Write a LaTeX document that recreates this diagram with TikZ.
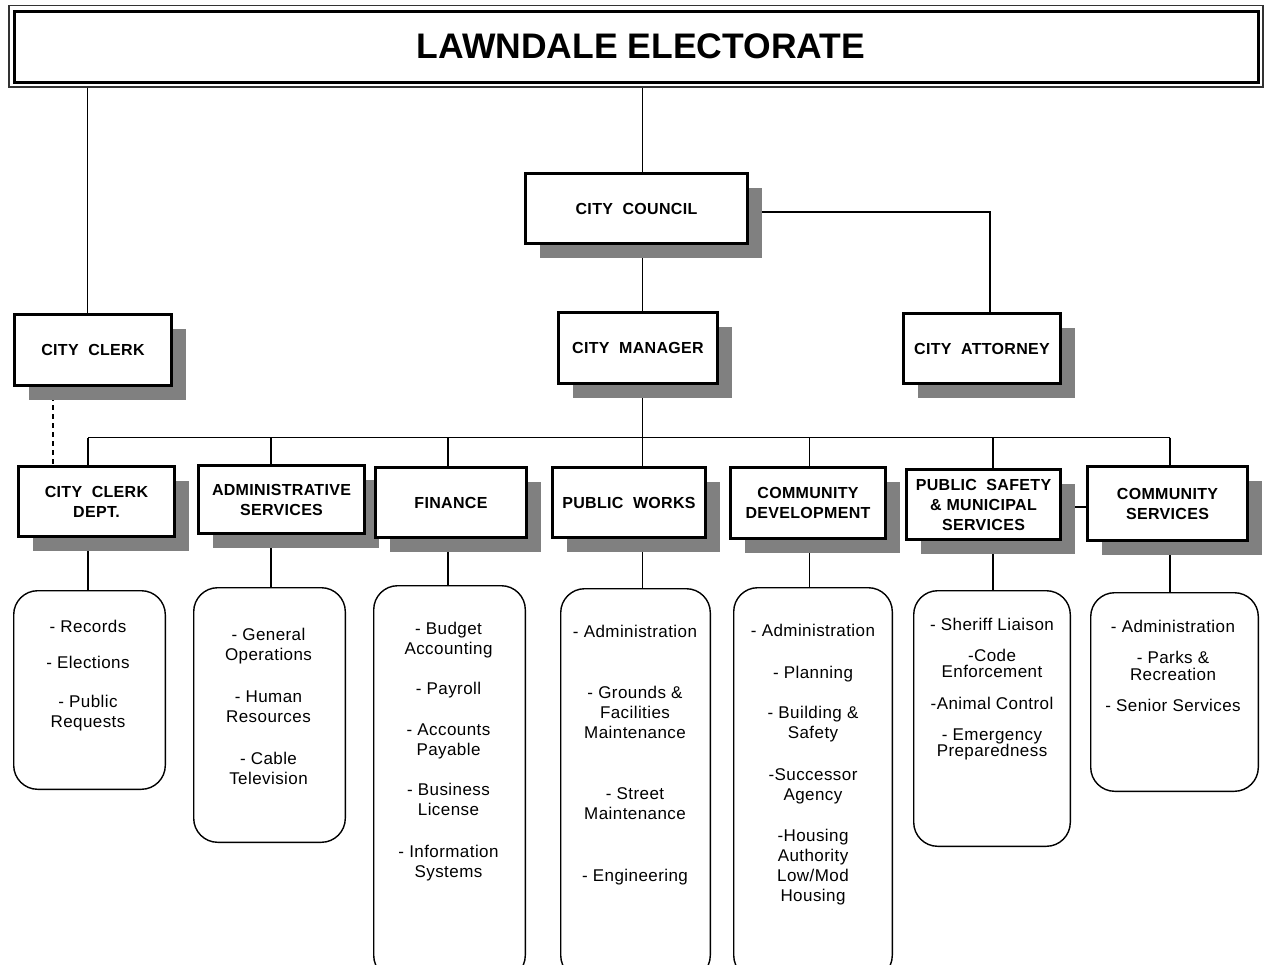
\documentclass[tikz,border=0pt]{standalone}
\usepackage{fontspec}
\setmainfont{Liberation Sans}
\newfontfamily\itemfont[LetterSpace=2.5]{Liberation Sans}
\newfontfamily\headfont[LetterSpace=2]{Liberation Sans}
\usetikzlibrary{shadows}
\pgfdeclarelayer{bg}
\pgfdeclarelayer{lines}
\pgfsetlayers{bg,lines,main}
\begin{document}
\begin{tikzpicture}[x=1pt,y=-1pt,
  conn/.style={line width=1.2pt},
  dashconn/.style={line width=1.2pt, dash pattern=on 5pt off 4pt},
  unit/.style={draw, line width=3pt, fill=white, inner sep=0pt, align=center,
    font=\headfont\bfseries\fontsize{16}{20}\selectfont,
    drop shadow={shadow xshift=14pt, shadow yshift=-14pt, fill=black!50, opacity=1}},
  listbox/.style={draw, line width=1.4pt, rounded corners=24pt, fill=white, inner sep=0pt},
  items/.style={align=center, inner sep=0pt, anchor=north, font=\itemfont\fontsize{17}{20}\selectfont},
  titlebox/.style={draw, line width=3pt, inner sep=0pt, font=\bfseries\fontsize{35.5}{40}\selectfont},
  outerframe/.style={draw=black!80, line width=1.6pt},
]
\useasboundingbox (0,0) rectangle (1265,964);
\clip (0,0) rectangle (1265,964);
\begin{pgfonlayer}{bg}
\fill[white] (0,0) rectangle (1265,964);
\end{pgfonlayer}

% title
\node[titlebox, minimum width=1244pt, minimum height=71.5pt] (title) at (636.5,46.75) {\hspace*{9pt}LAWNDALE ELECTORATE};
\draw[outerframe] (8.75,5.5) rectangle (1262.75,87.25);

% upper units
\node[unit, minimum width=157pt, minimum height=71pt] (clerk) at (93,350) {CITY\ \ CLERK};
\node[unit, minimum width=222pt, minimum height=70pt] (council) at (636.5,208.5) {CITY\ \ COUNCIL};
\node[unit, minimum width=159pt, minimum height=71pt] (manager) at (638,348) {CITY\ \ MANAGER};
\node[unit, minimum width=157pt, minimum height=70pt] (attorney) at (982,348.5) {CITY\ \ ATTORNEY};

% departments
\node[unit, minimum width=156pt, minimum height=70pt] (dclerk) at (96.5,501.5) {CITY\ \ CLERK\\DEPT.};
\node[unit, minimum width=166pt, minimum height=68pt] (admin) at (281.5,499.5) {ADMINISTRATIVE\\SERVICES};
\node[unit, minimum width=151pt, minimum height=70pt] (finance) at (451,502.5) {FINANCE};
\node[unit, minimum width=153pt, minimum height=70pt] (pworks) at (629,502.5) {PUBLIC\ \ WORKS};
\node[unit, minimum width=155pt, minimum height=71pt] (cdev) at (808,503) {COMMUNITY\\DEVELOPMENT};
\node[unit, minimum width=154pt, minimum height=70pt] (psafety) at (983.5,504.5) {PUBLIC\ \ SAFETY\\\& MUNICIPAL\\SERVICES};
\node[unit, minimum width=160pt, minimum height=74pt] (cserv) at (1167.5,503.5) {COMMUNITY\\SERVICES};

% function lists
\node[listbox, minimum width=151.6pt, minimum height=198.6pt] (l1) at (89.5,690) {};
\node[listbox, minimum width=151.6pt, minimum height=254.6pt] (l2) at (269.5,715) {};
\node[listbox, minimum width=151.6pt, minimum height=393.6pt] (l3) at (449.5,782.5) {};
\node[listbox, minimum width=149.6pt, minimum height=390.6pt] (l4) at (635.5,784) {};
\node[listbox, minimum width=158.6pt, minimum height=391.6pt] (l5) at (813,783.5) {};
\node[listbox, minimum width=156.6pt, minimum height=255.6pt] (l6) at (992,718.5) {};
\node[listbox, minimum width=167.6pt, minimum height=198.6pt] (l7) at (1174.5,692) {};

\node[items] (t1) at (88,619.5) {- Records\\[16pt]- Elections\\[19pt]- Public\\Requests};
\node[items] (t2) at (268.5,627.5) {- General\\Operations\\[22pt]- Human\\Resources\\[22pt]- Cable\\Television};
\node[items] (t3) at (448.5,621.5) {- Budget\\Accounting\\[20pt]- Payroll\\[21pt]- Accounts\\Payable\\[20pt]- Business\\License\\[22pt]- Information\\Systems};
\node[items] (t4) at (635,624.5) {- Administration\\[41pt]- Grounds \&\\Facilities\\Maintenance\\[41pt]- Street\\Maintenance\\[42pt]- Engineering};
\node[items] (t5) at (813,623.5) {- Administration\\[22pt]- Planning\\[20pt]- Building \&\\Safety\\[22pt]-Successor\\Agency\\[21pt]-Housing\\Authority\\Low/Mod\\Housing};
\node[items, font=\itemfont\fontsize{17}{16}\selectfont] (t6) at (992,617.5) {- Sheriff Liaison\\[15pt]-Code\\Enforcement\\[16pt]-Animal Control\\[15pt]- Emergency\\Preparedness};
\node[items, font=\itemfont\fontsize{17}{17}\selectfont] (t7) at (1173,619.5) {- Administration\\[14pt]- Parks \&\\Recreation\\[14pt]- Senior Services};

% connector guides
\coordinate (tb) at (0,87.25);
\coordinate (xa) at (87.5,0);
\coordinate (xb) at (642.5,0);
\coordinate (xc) at (990,0);
\coordinate (xd) at (53,0);
\coordinate (ya) at (0,212);
\coordinate (yb) at (0,507);
\coordinate (bus) at (0,437.5);
\coordinate (c1) at (88,0);
\coordinate (c2) at (271,0);
\coordinate (c3) at (448,0);
\coordinate (c4) at (642.5,0);
\coordinate (c5) at (809.5,0);
\coordinate (c6) at (993,0);
\coordinate (c7) at (1170,0);

\begin{pgfonlayer}{lines}
\draw[conn] (xa |- tb) -- (xa |- clerk.north);
\draw[conn] (xb |- tb) -- (xb |- council.north);
\draw[conn] (xb |- council.south) -- (xb |- manager.north);
\draw[conn] (council.east |- ya) -- (xc |- ya) -- (xc |- attorney.north);
\draw[conn] (xb |- manager.south) -- (xb |- bus);
\draw[conn] (c1 |- bus) -- (c7 |- bus);
\draw[conn] (c1 |- bus) -- (c1 |- dclerk.north);
\draw[conn] (c2 |- bus) -- (c2 |- admin.north);
\draw[conn] (c3 |- bus) -- (c3 |- finance.north);
\draw[conn] (c4 |- bus) -- (c4 |- pworks.north);
\draw[conn] (c5 |- bus) -- (c5 |- cdev.north);
\draw[conn] (c6 |- bus) -- (c6 |- psafety.north);
\draw[conn] (c7 |- bus) -- (c7 |- cserv.north);
\draw[dashconn] (xd |- clerk.south) -- (xd |- dclerk.north);
\draw[conn] (psafety.east |- yb) -- (cserv.west |- yb);
\draw[conn] (c1 |- dclerk.south) -- (c1 |- l1.north);
\draw[conn] (c2 |- admin.south) -- (c2 |- l2.north);
\draw[conn] (c3 |- finance.south) -- (c3 |- l3.north);
\draw[conn] (c4 |- pworks.south) -- (c4 |- l4.north);
\draw[conn] (c5 |- cdev.south) -- (c5 |- l5.north);
\draw[conn] (c6 |- psafety.south) -- (c6 |- l6.north);
\draw[conn] (c7 |- cserv.south) -- (c7 |- l7.north);
\end{pgfonlayer}
\end{tikzpicture}
\end{document}
